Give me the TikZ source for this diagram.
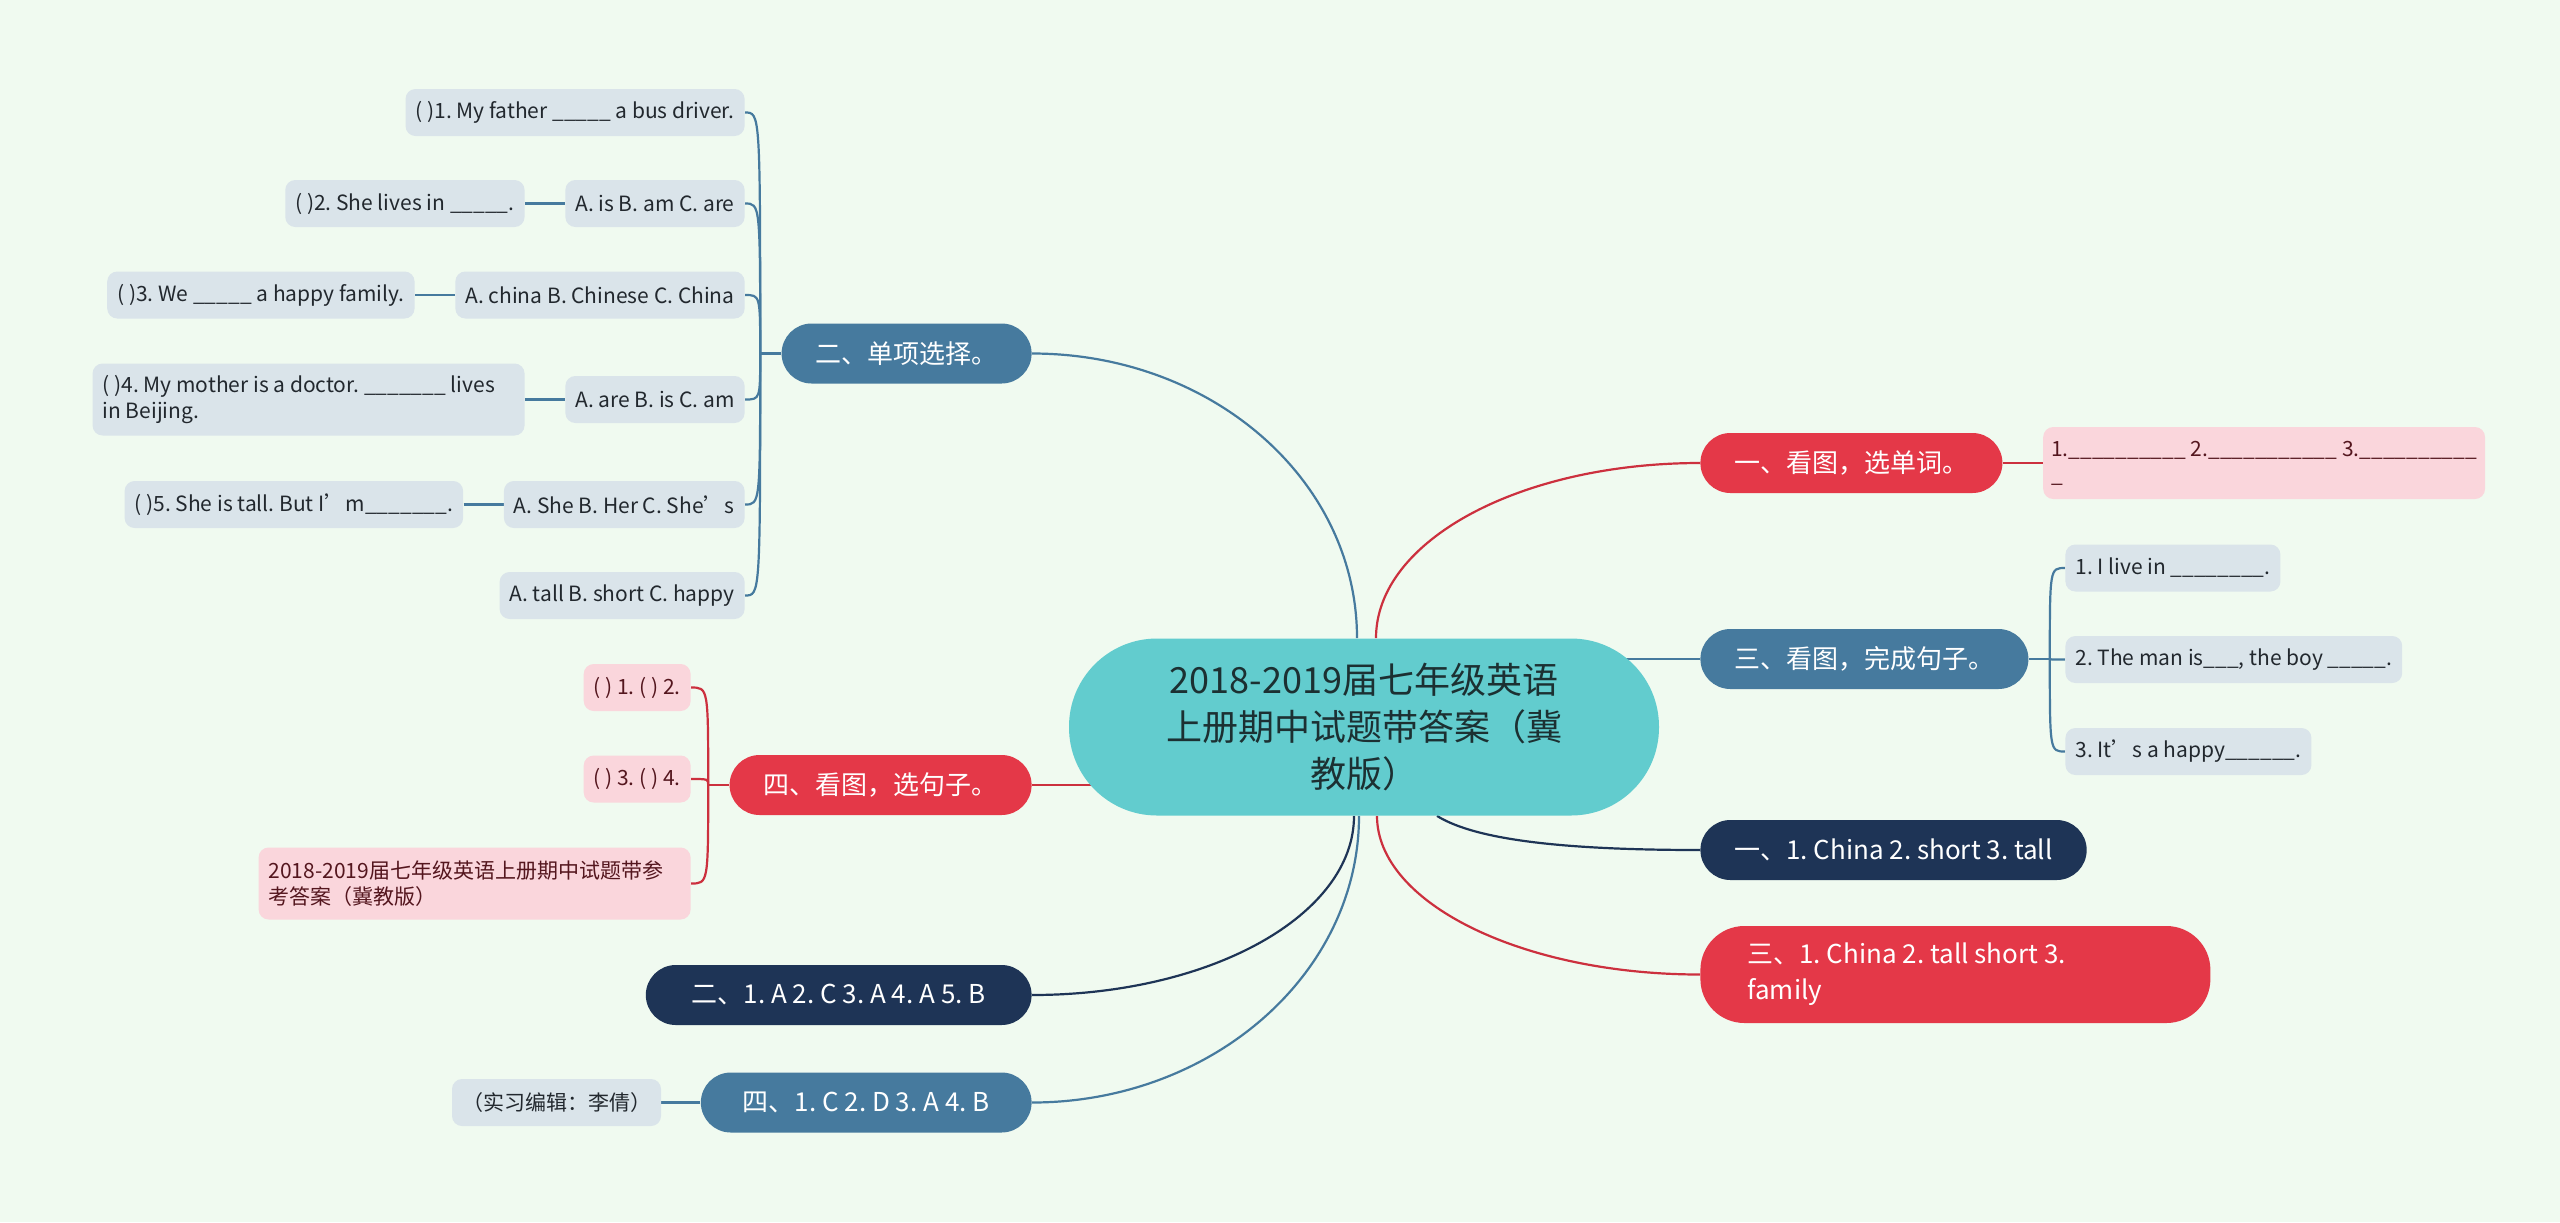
\documentclass[tikz,border=0pt]{standalone}
\usepackage{fontspec}
\setmainfont{Noto Sans CJK SC}
\frenchspacing
\usetikzlibrary{positioning,calc,backgrounds}

\definecolor{bgcol}{RGB}{240,250,240}
\definecolor{rootcol}{RGB}{98,204,206}
\definecolor{roottext}{RGB}{28,48,50}
\definecolor{redcol}{RGB}{228,56,72}
\definecolor{redline}{RGB}{204,48,62}
\definecolor{bluecol}{RGB}{70,122,158}
\definecolor{navycol}{RGB}{30,52,86}
\definecolor{leafblue}{RGB}{218,228,234}
\definecolor{leafpink}{RGB}{250,214,220}
\definecolor{leaftext}{RGB}{34,40,46}
\definecolor{pinktext}{RGB}{84,22,30}

\tikzset{
  rootnode/.style={fill=rootcol, text=roottext, rounded corners=44pt, minimum width=295pt,
    minimum height=88.5pt, align=center, font=\fontsize{18}{23.5}\selectfont},
  branch/.style={rounded corners=15pt, minimum height=30pt, inner xsep=17pt, text=white,
    align=flush left, font=\fontsize{13}{18}\selectfont},
  redbranch/.style={branch, fill=redcol},
  bluebranch/.style={branch, fill=bluecol},
  navybranch/.style={branch, fill=navycol},
  leaf/.style={rounded corners=5pt, minimum height=23.5pt, inner xsep=5pt, align=flush left,
    font=\fontsize{10.5}{13}\selectfont},
  tallleaf/.style={minimum height=36pt},
  blueleaf/.style={leaf, fill=leafblue, text=leaftext},
  pinkleaf/.style={leaf, fill=leafpink, text=pinktext},
  link/.style={line width=1.1pt},
  redlink/.style={link, draw=redline},
  bluelink/.style={link, draw=bluecol},
  navylink/.style={link, draw=navycol}
}

\begin{document}
\begin{tikzpicture}[x=0.5pt,y=0.5pt,yscale=-1]
\useasboundingbox (0,0) rectangle (2560,1222);

% Central Node
\node[rootnode] (root) at (1364,727) {2018-2019届七年级英语\\上册期中试题带答案（冀\\教版）};

% Right Branches
\node[redbranch, anchor=west] (b1) at (1700,463) {一、看图，选单词。};
\node[bluebranch, anchor=west] (b3) at (1700,659) {三、看图，完成句子。};
\node[navybranch, anchor=west] (a1) at (1700,850) {一、1. China 2. short 3. tall};
\node[redbranch, anchor=west, text width=208pt, inner xsep=23.5pt, minimum height=48.5pt,
  rounded corners=22pt] (a3) at (1700,974.5) {三、1. China 2. tall short 3.\\family};

% Left Branches
\node[bluebranch, anchor=east] (b2) at (1032,353.5) {二、单项选择。};
\node[redbranch, anchor=east] (b4) at (1032,785) {四、看图，选句子。};
\node[navybranch, anchor=east, inner xsep=23pt] (a2) at (1032,995) {二、1. A 2. C 3. A 4. A 5. B};
\node[bluebranch, anchor=east, inner xsep=21pt] (a4) at (1032,1102.5) {四、1. C 2. D 3. A 4. B};

% Text Node
\node[pinkleaf, tallleaf, inner xsep=4pt, right=20pt of b1] (word1) {1.\_\_\_\_\_\_\_\_\_\_ 2.\_\_\_\_\_\_\_\_\_\_\_ 3.\_\_\_\_\_\_\_\_\_\_\\\_};
\node[blueleaf, anchor=west] (sen1) at (2065,568) {1. I live in \_\_\_\_\_\_\_\_.};
\node[blueleaf, anchor=west] (sen2) at (2065,659.5) {2. The man is\_\_\_, the boy \_\_\_\_\_.};
\node[blueleaf, anchor=west] (sen3) at (2065,751.5) {3. It’s a happy\_\_\_\_\_\_.};

% Text Node
\node[blueleaf, anchor=east] (opt1) at (745,112.5) {( )1. My father \_\_\_\_\_ a bus driver.};
\node[blueleaf, anchor=east] (opt2) at (745,203.5) {A. is B. am C. are};
\node[blueleaf, anchor=east] (opt3) at (745,295) {A. china B. Chinese C. China};
\node[blueleaf, anchor=east] (opt4) at (745,399.5) {A. are B. is C. am};
\node[blueleaf, anchor=east] (opt5) at (745,504.5) {A. She B. Her C. She’s};
\node[blueleaf, anchor=east] (opt6) at (745,595.5) {A. tall B. short C. happy};
\node[blueleaf, left=20pt of opt2] (ques2) {( )2. She lives in \_\_\_\_\_.};
\node[blueleaf, left=20pt of opt3] (ques3) {( )3. We \_\_\_\_\_ a happy family.};
\node[blueleaf, tallleaf, text width=206pt, left=20pt of opt4] (ques4) {( )4. My mother is a doctor. \_\_\_\_\_\_\_ lives\\in Beijing.};
\node[blueleaf, left=20pt of opt5] (ques5) {( )5. She is tall. But I’m\_\_\_\_\_\_\_.};

% Text Node
\node[pinkleaf, anchor=east] (pic1) at (691,687.5) {( ) 1. ( ) 2.};
\node[pinkleaf, anchor=east] (pic2) at (691,779) {( ) 3. ( ) 4.};
\node[pinkleaf, tallleaf, text width=206pt, anchor=east] (pic3) at (691,883.5) {2018-2019届七年级英语上册期中试题带参\\考答案（冀教版）};
\node[blueleaf, left=19.5pt of a4] (note) {（实习编辑：李倩）};

\begin{scope}[on background layer]
\fill[bgcol] (0,0) rectangle (2560,1222);

%Curve Lines
\draw[bluelink] (b2.east) .. controls +(180,0) and +(0,-158) .. ($(root.north)+(-7,0)$);
\draw[redlink] ($(root.north)+(12,0)$) .. controls +(0,-98) and +(-179,0) .. (b1.west);
\draw[bluelink] (root.center |- b3.west) -- (b3.west);
\draw[redlink] (root.center |- b4.east) -- (b4.east);
\draw[navylink] ($(root.south)+(73,0)$) .. controls +(40,25) and +(-130,0) .. (a1.west);
\draw[redlink] ($(root.south)+(13,0)$) .. controls +(0,87) and +(-178,0) .. (a3.west);
\draw[navylink] ($(root.south)+(-10,0)$) .. controls +(0,99) and +(179,0) .. (a2.east);
\draw[bluelink] ($(root.south)+(-5,0)$) .. controls +(0,158) and +(180,0) .. (a4.east);

%Straight Lines
\draw[redlink] (b1.east) -- (b1.east -| word1.west);
\draw[bluelink] (a4.west) -- (note.east);
\foreach \n in {2,...,5}
  \draw[bluelink] (ques\n.east) -- (opt\n.west);

%Bracket Lines
\coordinate (j2) at ($(b2.west)+(-21,0)$);
\draw[bluelink] (b2.west) -- (j2);
\foreach \n in {opt1,opt2,opt3,opt4,opt5,opt6}
  \draw[bluelink] (j2) .. controls (j2 |- \n.east) .. (\n.east);
\coordinate (j3) at ($(b3.east)+(21,0)$);
\draw[bluelink] (b3.east) -- (j3);
\foreach \n in {sen1,sen2,sen3}
  \draw[bluelink] (j3) .. controls (j3 |- \n.west) .. (\n.west);
\coordinate (j4) at ($(b4.west)+(-21,0)$);
\draw[redlink] (b4.west) -- (j4);
\foreach \n in {pic1,pic2,pic3}
  \draw[redlink] (j4) .. controls (j4 |- \n.east) .. (\n.east);
\end{scope}

\end{tikzpicture}
\end{document}
